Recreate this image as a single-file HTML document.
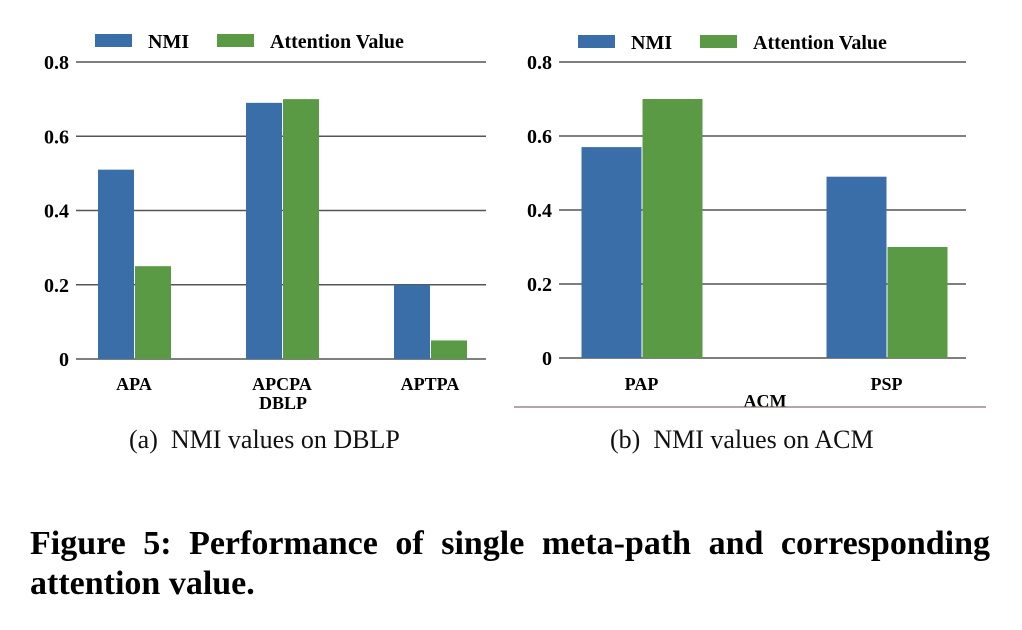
<!DOCTYPE html>
<html><head><meta charset="utf-8"><style>
body{margin:0;background:#fff;width:1022px;height:630px;overflow:hidden;font-family:"Liberation Serif",serif}
svg{position:absolute;left:0;top:0}
.cap{position:absolute;font-size:26px;color:#111}
.fig{position:absolute;left:30px;width:960px;font-size:34px;font-weight:bold;line-height:40px;color:#000;white-space:nowrap}
</style></head><body>
<svg id="chart" width="1022" height="630"></svg>
<div class="cap" style="left:129px;top:425px">(a)&nbsp; NMI values on DBLP</div>
<div class="cap" style="left:610px;top:425px">(b)&nbsp; NMI values on ACM</div>
<div class="fig" style="top:524px;text-align:justify;text-align-last:justify">Figure 5: Performance of single meta-path and corresponding</div>
<div class="fig" style="top:564px">attention value.</div>
<script>
const dblpCats=["APA","APCPA","APTPA"];
const dblpNMI=[0.51,0.69,0.20];
const dblpAtt=[0.25,0.70,0.05];
const acmCats=["PAP","PSP"];
const acmNMI=[0.57,0.49];
const acmAtt=[0.70,0.30];
const yTicks=[0,0.2,0.4,0.6,0.8];
const yTickLabels=["0","0.2","0.4","0.6","0.8"];
const NS="http://www.w3.org/2000/svg";
const svg=document.getElementById("chart");
function el(t,a,p){const e=document.createElementNS(NS,t);for(const k in a)e.setAttribute(k,a[k]);(p||svg).appendChild(e);return e;}
function panel(o){
  const g=el("g",{});
  
  
  const y=v=>o.y0-(o.y0-o.y1)*v/0.8;
  yTicks.forEach((t,i)=>{
    const l=el("line",{x1:o.gx0,x2:o.gx1,y1:y(t),y2:y(t),stroke:"#555","stroke-width":1.5},g);
    
    
    const tx=el("text",{x:o.gx0-7,y:y(t)+7,"text-anchor":"end","font-size":20,"font-weight":"bold","font-family":"Liberation Serif"},g);
    tx.textContent=yTickLabels[i];
    
    
  });
  o.cats.forEach((c,i)=>{
    const cx=o.c0+i*o.step;
    const b1=el("rect",{x:cx-o.bw,y:y(o.a[i]),width:o.bw,height:y(0)-y(o.a[i]),fill:"#3a6ea8"},g);
    
    
    const b2=el("rect",{x:cx+1,y:y(o.b[i]),width:o.bw,height:y(0)-y(o.b[i]),fill:"#5b9a45"},g);
    
    
    const t=el("text",{x:cx,y:390,"text-anchor":"middle","font-size":18,"font-weight":"bold","font-family":"Liberation Serif"},g);
    t.textContent=c;
    
    
  });
  const xt=el("text",{x:o.xtx,y:o.xty,"text-anchor":"middle","font-size":18,"font-weight":"bold","font-family":"Liberation Serif"},g);
  xt.textContent=o.xtitle;
  
  
  const lg=el("g",{},g);
  
  
  el("rect",{x:o.lx,y:o.ly,width:37,height:13,fill:"#3a6ea8"},lg);
  const t1=el("text",{x:o.lx+53,y:o.ly+14,"font-size":20,"font-weight":"bold","font-family":"Liberation Serif"},lg);t1.textContent="NMI";
  el("rect",{x:o.lx+122,y:o.ly,width:37,height:13,fill:"#5b9a45"},lg);
  const t2=el("text",{x:o.lx+175,y:o.ly+14,"font-size":20,"font-weight":"bold","font-family":"Liberation Serif"},lg);t2.textContent="Attention Value";
}
panel({name:"dblp-chart",cats:dblpCats,a:dblpNMI,b:dblpAtt,gx0:76,gx1:486,y0:359,y1:62,c0:134,step:148,bw:36,xtitle:"DBLP",xtx:283,xty:409,lx:95,ly:34});
panel({name:"acm-chart",cats:acmCats,a:acmNMI,b:acmAtt,gx0:559,gx1:966,y0:358,y1:62,c0:641.5,step:245,bw:60,xtitle:"ACM",xtx:765,xty:407,lx:578,ly:35});
const bl=el("line",{x1:514,x2:986,y1:407,y2:407,stroke:"#8a7070","stroke-width":1.2});


</script>
</body></html>
